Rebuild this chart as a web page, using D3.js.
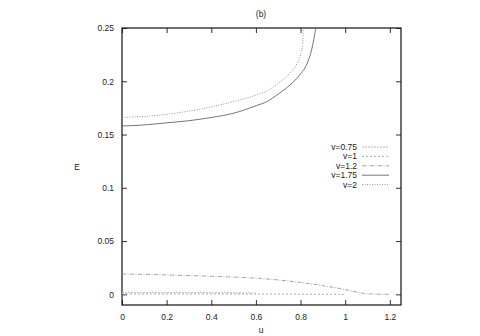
<!DOCTYPE html>
<html>
<head>
<meta charset="utf-8">
<script src="https://cdn.jsdelivr.net/npm/d3@7"></script>
<style>
  html, body { margin: 0; padding: 0; background: #fff; overflow: hidden; }
  svg { display: block; }
  text { font-family: "Liberation Sans", Arial, sans-serif; font-size: 8.5px; fill: #222; }
</style>
</head>
<body>
<div id="box" style="width:480px;height:336px"></div>
<script>
// data
const seriesNames = ['v=0.75', 'v=1', 'v=1.2', 'v=1.75', 'v=2'];
const u075 = [0, 0.1, 0.2, 0.3, 0.4, 0.5, 0.6];
const e075 = [0.0015, 0.0015, 0.0015, 0.0015, 0.0015, 0.0014, 0.0012];
const u1 = [0, 0.2, 0.4, 0.6, 0.8, 1.0];
const e1 = [0.0003, 0.0003, 0.0003, 0.0002, 0.0001, 0.0];
const u12 = [0, 0.1, 0.2, 0.3, 0.4, 0.5, 0.6, 0.7, 0.8, 0.9, 1.0, 1.05, 1.1, 1.2];
const e12 = [0.019, 0.0188, 0.0182, 0.0176, 0.017, 0.0162, 0.0152, 0.0135, 0.0112, 0.0082, 0.0045, 0.0022, 0.0005, 0.0];
const u175 = [0, 0.1, 0.2, 0.3, 0.4, 0.5, 0.6, 0.65, 0.7, 0.75, 0.8, 0.83, 0.85, 0.86, 0.87];
const e175 = [0.158, 0.159, 0.161, 0.163, 0.166, 0.170, 0.177, 0.181, 0.188, 0.196, 0.207, 0.217, 0.230, 0.240, 0.252];
const u2 = [0, 0.1, 0.2, 0.3, 0.4, 0.5, 0.6, 0.65, 0.7, 0.75, 0.78, 0.8, 0.81, 0.812];
const e2 = [0.166, 0.167, 0.169, 0.172, 0.176, 0.181, 0.187, 0.191, 0.198, 0.207, 0.215, 0.225, 0.236, 0.252];
const xTicks = [0, 0.2, 0.4, 0.6, 0.8, 1, 1.2];
const yTicks = [0, 0.05, 0.1, 0.15, 0.2, 0.25];

const styles = [
  { dash: '2,1', color: '#aaa' },
  { dash: '2,2', color: '#aaa' },
  { dash: '4,1.5,1,1.5', color: '#999' },
  { dash: null, color: '#666' },
  { dash: '1,1.5', color: '#888' }
];

const width = 480, height = 336;
const padLeft = 122, padRight = 79, padTop = 28, padBottom = 31;
const innerWidth = width - padLeft - padRight;
const innerHeight = height - padTop - padBottom;

const svg = d3.select('#box').append('svg')
  .attr('width', width)
  .attr('height', height);

const x = d3.scaleLinear().domain([0, 1.25]).range([0, innerWidth]);
const y = d3.scaleLinear().domain([-0.01, 0.25]).range([innerHeight, 0]);

const pad = svg.append('g').attr('transform', `translate(${padLeft}, ${padTop})`);

pad.append('clipPath').attr('id', 'clip')
  .append('rect').attr('width', innerWidth).attr('height', innerHeight);

// axes with mirrored ticks
const fmt = d => d3.format('~g')(d);
pad.append('g').attr('transform', `translate(0,${innerHeight})`)
  .call(d3.axisBottom(x).tickValues(xTicks).tickSizeInner(-5).tickSizeOuter(0).tickPadding(9).tickFormat(fmt));
pad.append('g').attr('class', 'mirror')
  .call(d3.axisTop(x).tickValues(xTicks).tickSizeInner(-5).tickSizeOuter(0));
pad.append('g')
  .call(d3.axisLeft(y).tickValues(yTicks).tickSizeInner(-5).tickSizeOuter(0).tickPadding(8).tickFormat(fmt));
pad.append('g').attr('class', 'mirror').attr('transform', `translate(${innerWidth},0)`)
  .call(d3.axisRight(y).tickValues(yTicks).tickSizeInner(-5).tickSizeOuter(0));

pad.selectAll('.mirror .tick text').remove();
pad.selectAll('.domain').remove();
pad.selectAll('.tick line').attr('stroke', '#333');
pad.selectAll('.tick text').style('font-size', '8.5px').attr('fill', '#222');

pad.append('rect')
  .attr('width', innerWidth).attr('height', innerHeight)
  .attr('fill', 'none').attr('stroke', '#111').attr('stroke-width', 1.2);

// curves
const allU = [u075, u1, u12, u175, u2];
const allE = [e075, e1, e12, e175, e2];
const series = seriesNames.map((name, i) => ({
  name, style: styles[i],
  pts: allU[i].map((u, j) => [u, allE[i][j]])
}));

const line = d3.line().curve(d3.curveMonotoneX).x(d => x(d[0])).y(d => y(d[1]));

pad.append('g').attr('clip-path', 'url(#clip)')
  .selectAll('path').data(series)
  .join('path')
  .attr('d', d => line(d.pts))
  .attr('fill', 'none')
  .attr('stroke', d => d.style.color)
  .attr('stroke-width', 0.9)
  .attr('stroke-dasharray', d => d.style.dash);

// legend
const legend = svg.append('g');
series.forEach((s, i) => {
  const ly = 147 + i * 9.4;
  legend.append('text')
    .attr('x', 357).attr('y', ly).attr('dy', '0.35em')
    .attr('text-anchor', 'end').text(s.name);
  legend.append('line')
    .attr('x1', 362).attr('x2', 389).attr('y1', ly).attr('y2', ly)
    .attr('stroke', s.style.color).attr('stroke-width', 0.9)
    .attr('stroke-dasharray', s.style.dash);
});

// labels
svg.append('text').attr('x', 261).attr('y', 14).attr('dy', '0.35em')
  .attr('text-anchor', 'middle').text('(b)');
svg.append('text').attr('x', 261).attr('y', 330).attr('dy', '0.35em')
  .attr('text-anchor', 'middle').text('u');
svg.append('text').attr('x', 77).attr('y', 167).attr('dy', '0.35em')
  .attr('text-anchor', 'middle').text('E');
</script>
</body>
</html>
